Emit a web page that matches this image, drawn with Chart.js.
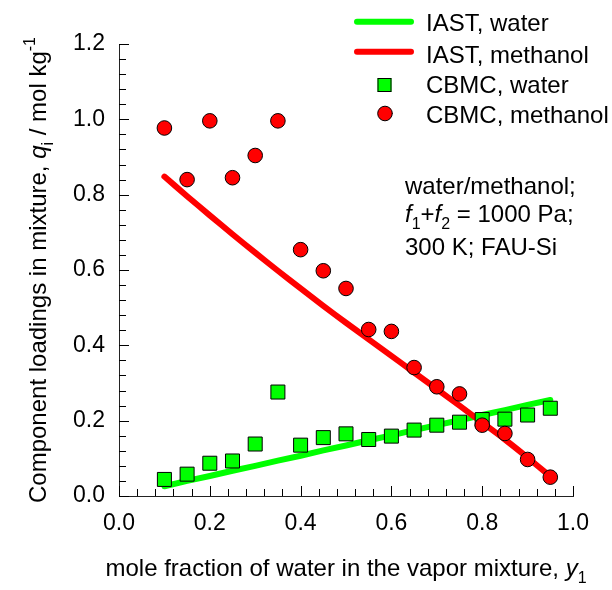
<!DOCTYPE html>
<html>
<head>
<meta charset="utf-8">
<script src="https://cdn.jsdelivr.net/npm/chart.js@4.4.1/dist/chart.umd.min.js"></script>
<style>
  html, body { margin: 0; padding: 0; background: #fff; }
  #wrap { width: 612px; height: 590px; position: relative; }
</style>
</head>
<body>
<div id="wrap"><canvas id="c" width="612" height="590"></canvas></div>
<script>
// ---- data ----
const yWater = [0.10, 0.15, 0.20, 0.25, 0.30, 0.35, 0.40, 0.45, 0.50, 0.55, 0.60, 0.65, 0.70, 0.75, 0.80, 0.85, 0.90, 0.95];
const iastWater = [0.026, 0.040, 0.053, 0.067, 0.080, 0.094, 0.107, 0.121, 0.134, 0.148, 0.161, 0.175, 0.188, 0.201, 0.215, 0.228, 0.242, 0.255];
const iastMethanol = [0.848, 0.796, 0.745, 0.695, 0.646, 0.598, 0.551, 0.505, 0.460, 0.416, 0.372, 0.328, 0.284, 0.240, 0.195, 0.150, 0.102, 0.052];
const cbmcWater = [0.044, 0.058, 0.087, 0.093, 0.138, 0.276, 0.135, 0.155, 0.165, 0.150, 0.159, 0.175, 0.188, 0.196, 0.203, 0.204, 0.215, 0.233];
const cbmcMethanol = [0.977, 0.840, 0.996, 0.845, 0.904, 0.996, 0.654, 0.598, 0.551, 0.442, 0.437, 0.341, 0.290, 0.271, 0.188, 0.166, 0.097, 0.050];
const seriesNames = ["IAST, water", "IAST, methanol", "CBMC, water", "CBMC, methanol"];
const xTickValues = [0.0, 0.2, 0.4, 0.6, 0.8, 1.0];
const yTickValues = [0.0, 0.2, 0.4, 0.6, 0.8, 1.0, 1.2];
const annotationLines = ["water/methanol;", "f1+f2 = 1000 Pa;", "300 K; FAU-Si"];

const GREEN = "#00ff00";
const RED = "#ff0000";
const FONT = "'Liberation Sans', Arial, sans-serif";
const TXT = 24;

function pts(xs, ys) { return xs.map((x, i) => ({ x: x, y: ys[i] })); }

// rich text helper: runs of {t, it, sub, sup}
function runWidth(ctx, runs, size) {
  let w = 0;
  for (const r of runs) {
    const s = (r.sub || r.sup) ? Math.round(size * 0.65) : size;
    ctx.font = (r.it ? "italic " : "") + s + "px " + FONT;
    w += ctx.measureText(r.t).width;
  }
  return w;
}
function drawRuns(ctx, runs, x, y, size) {
  let cx = x;
  for (const r of runs) {
    const s = (r.sub || r.sup) ? Math.round(size * 0.65) : size;
    ctx.font = (r.it ? "italic " : "") + s + "px " + FONT;
    let dy = 0;
    if (r.sub) dy = size * 0.28;
    if (r.sup) dy = -size * 0.45;
    ctx.fillText(r.t, cx, y + dy);
    cx += ctx.measureText(r.t).width;
  }
}

const decorPlugin = {
  id: "decor",
  afterDraw(chart) {
    const ctx = chart.ctx;
    const xs = chart.scales.x, ys = chart.scales.y;
    const ca = chart.chartArea;
    ctx.save();
    // inward ticks
    ctx.strokeStyle = "#000";
    ctx.lineWidth = 1;
    for (let i = 0; i <= 25; i++) {
      const v = i * 0.04;
      const px = Math.round(xs.getPixelForValue(v)) + 0.5;
      const len = (i % 5 === 0) ? 10 : 7;
      ctx.beginPath(); ctx.moveTo(px, ca.bottom); ctx.lineTo(px, ca.bottom - len); ctx.stroke();
    }
    for (let i = 0; i <= 30; i++) {
      const v = i * 0.04;
      const py = Math.round(ys.getPixelForValue(v)) + 0.5;
      const len = (i % 5 === 0) ? 10 : 7;
      ctx.beginPath(); ctx.moveTo(ca.left, py); ctx.lineTo(ca.left + len, py); ctx.stroke();
    }
    ctx.fillStyle = "#000";
    ctx.textBaseline = "alphabetic";
    ctx.textAlign = "left";
    // x-axis title
    const xRuns = [{ t: "mole fraction of water in the vapor mixture, " }, { t: "y", it: true }, { t: "1", sub: true }];
    const xw = runWidth(ctx, xRuns, TXT);
    drawRuns(ctx, xRuns, (ca.left + ca.right) / 2 - xw / 2, 576, TXT);
    // y-axis title
    const yRuns = [{ t: "Component loadings in mixture, " }, { t: "q", it: true }, { t: "i", sub: true }, { t: " / mol kg" }, { t: "-1", sup: true }];
    const yw = runWidth(ctx, yRuns, TXT);
    ctx.save();
    ctx.translate(46, (ca.top + ca.bottom) / 2);
    ctx.rotate(-Math.PI / 2);
    drawRuns(ctx, yRuns, -yw / 2, 0, TXT);
    ctx.restore();
    // annotation
    ctx.font = TXT + "px " + FONT;
    ctx.fillText(annotationLines[0], 405, 194);
    drawRuns(ctx, [{ t: "f", it: true }, { t: "1", sub: true }, { t: "+" }, { t: "f", it: true }, { t: "2", sub: true }, { t: " = 1000 Pa;" }], 405, 222, TXT);
    ctx.font = TXT + "px " + FONT;
    ctx.fillText(annotationLines[2], 405, 255);
    // legend
    const rows = [21.7, 51.7, 85, 113.5];
    const textRows = [22, 54.5, 84.5, 114.5];
    ctx.lineCap = "round";
    ctx.lineWidth = 6;
    ctx.strokeStyle = GREEN;
    ctx.beginPath(); ctx.moveTo(357, rows[0]); ctx.lineTo(411, rows[0]); ctx.stroke();
    ctx.strokeStyle = RED;
    ctx.beginPath(); ctx.moveTo(357, rows[1]); ctx.lineTo(411, rows[1]); ctx.stroke();
    ctx.lineWidth = 1;
    ctx.strokeStyle = "#000";
    ctx.fillStyle = GREEN;
    ctx.fillRect(377.5, rows[2] - 7, 14, 14);
    ctx.strokeRect(378, rows[2] - 6.5, 13, 13);
    ctx.fillStyle = RED;
    ctx.beginPath(); ctx.arc(385, rows[3], 7.3, 0, Math.PI * 2); ctx.fill(); ctx.stroke();
    ctx.fillStyle = "#000";
    ctx.font = TXT + "px " + FONT;
    for (let i = 0; i < 4; i++) ctx.fillText(seriesNames[i], 426, textRows[i] + 8.5);
    ctx.restore();
  }
};

new Chart(document.getElementById("c"), {
  type: "scatter",
  data: {
    datasets: [
      { label: seriesNames[0], data: pts(yWater, iastWater), showLine: true, borderColor: GREEN, borderWidth: 6, pointRadius: 0, borderCapStyle: "round", borderJoinStyle: "round", tension: 0, order: 3 },
      { label: seriesNames[1], data: pts(yWater, iastMethanol), showLine: true, borderColor: RED, borderWidth: 6, pointRadius: 0, borderCapStyle: "round", borderJoinStyle: "round", tension: 0.2, order: 2 },
      { label: seriesNames[2], data: pts(yWater, cbmcWater), pointStyle: "rect", pointRadius: 9.9, backgroundColor: GREEN, borderColor: "#000", borderWidth: 1, order: 1 },
      { label: seriesNames[3], data: pts(yWater, cbmcMethanol), pointStyle: "circle", pointRadius: 7.3, backgroundColor: RED, borderColor: "#000", borderWidth: 1, order: 0 }
    ]
  },
  options: {
    responsive: false,
    animation: false,
    layout: { padding: { top: 44, right: 39, left: 0, bottom: 0 } },
    plugins: { legend: { display: false }, tooltip: { enabled: false } },
    scales: {
      x: {
        type: "linear", min: 0, max: 1,
        afterBuildTicks(s) { s.ticks = xTickValues.map(v => ({ value: v })); },
        afterFit(s) { s.height = 94; },
        grid: { display: false, drawTicks: false, tickLength: 0 },
        border: { display: true, color: "#222", width: 1 },
        ticks: { color: "#000", font: { family: FONT, size: 23 }, padding: 14, maxRotation: 0, callback: v => v.toFixed(1) },
        title: { display: false }
      },
      y: {
        type: "linear", min: 0, max: 1.2,
        afterBuildTicks(s) { s.ticks = yTickValues.map(v => ({ value: v })); },
        afterFit(s) { s.width = 119; },
        grid: { display: false, drawTicks: false, tickLength: 0 },
        border: { display: true, color: "#222", width: 1 },
        ticks: { color: "#000", font: { family: FONT, size: 23 }, padding: 14, callback: v => v.toFixed(1) },
        title: { display: false }
      }
    }
  },
  plugins: [decorPlugin]
});
</script>
</body>
</html>
